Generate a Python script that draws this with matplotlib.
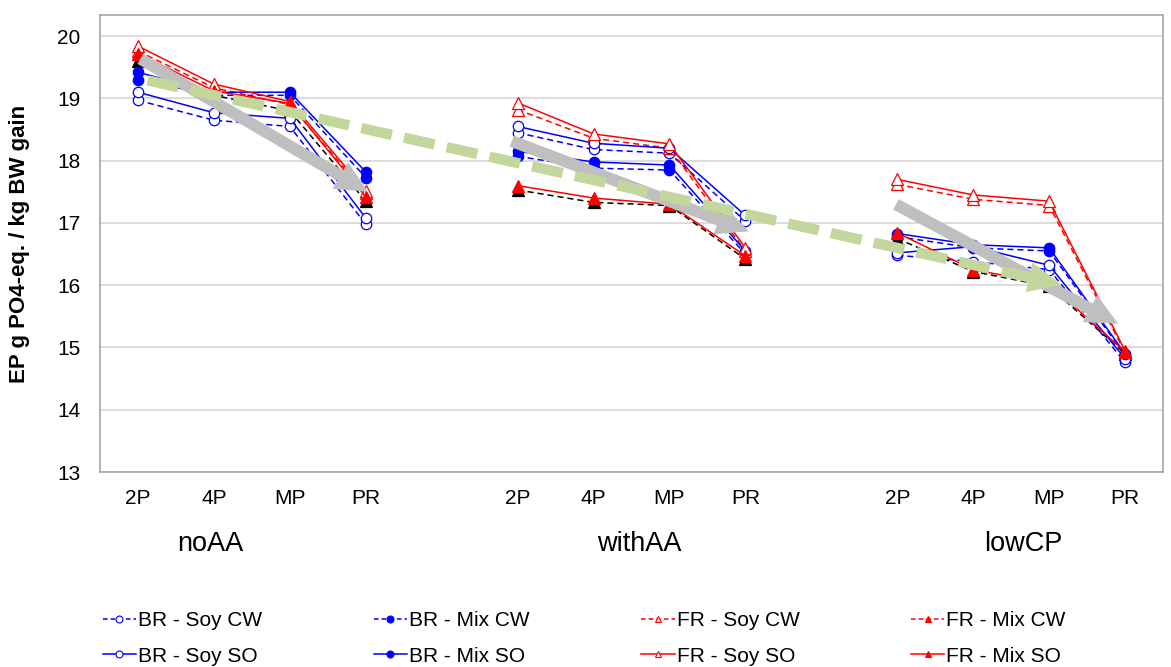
import numpy as np
import matplotlib
matplotlib.use("Agg")
import matplotlib.pyplot as plt
from matplotlib.lines import Line2D
from matplotlib.patches import FancyArrowPatch

plt.rcParams['font.family'] = ['Liberation Sans', 'DejaVu Sans']

#categories################
stades = ['2P', '4P', 'MP', 'PR']
groupes = ['noAA', 'withAA', 'lowCP']
###########################

# EP g PO4-eq. / kg BW gain : noAA (4), withAA (4), lowCP (4)
br_soy_cw = [18.97, 18.65, 18.55, 16.98, 18.45, 18.18, 18.12, 17.03, 16.48, 16.38, 16.25, 14.76]
br_mix_cw = [19.30, 19.05, 19.05, 17.73, 18.07, 17.88, 17.85, 16.50, 16.78, 16.60, 16.55, 14.88]
fr_soy_cw = [19.76, 19.17, 18.90, 17.48, 18.82, 18.36, 18.20, 16.55, 17.62, 17.38, 17.28, 14.92]
fr_mix_cw = [19.60, 19.05, 18.80, 17.35, 17.53, 17.33, 17.28, 16.42, 16.75, 16.22, 15.98, 14.90]
br_soy_so = [19.10, 18.77, 18.68, 17.08, 18.55, 18.28, 18.20, 17.12, 16.52, 16.62, 16.32, 14.82]
br_mix_so = [19.42, 19.10, 19.10, 17.82, 18.15, 17.98, 17.93, 16.55, 16.83, 16.65, 16.60, 14.90]
fr_soy_so = [19.84, 19.23, 18.95, 17.52, 18.93, 18.43, 18.27, 16.60, 17.70, 17.45, 17.35, 14.95]
fr_mix_so = [19.72, 19.12, 18.92, 17.42, 17.60, 17.40, 17.30, 16.47, 16.84, 16.25, 16.02, 14.93]

# fleches de tendance (x = indice de categorie, y = valeur)
fleches_grises = [((0.0, 19.66), (3.06, 17.48)),
                  ((4.89, 18.33), (8.08, 16.85)),
                  ((9.95, 17.32), (12.94, 15.36))]
fleche_verte = ((0.13, 19.29), (12.2, 16.0))


def avec_trous(valeurs):
    """
    insere un NaN entre chaque groupe pour couper la ligne
    """
    res = []
    for g in range(len(groupes)):
        res += list(valeurs[g*4:(g+1)*4])
        if g < len(groupes) - 1:
            res.append(np.nan)
    return np.array(res, dtype=float)


x = np.arange(len(groupes)*5 - 1, dtype=float)
x[4::5] = np.nan

# (label, valeurs, couleur trace, style, marqueur, face, couleur legende)
series = [
    ("BR - Soy CW", br_soy_cw, 'blue', '--', 'o', 'white', 'blue'),
    ("BR - Mix CW", br_mix_cw, 'blue', '--', 'o', 'blue', 'blue'),
    ("FR - Soy CW", fr_soy_cw, 'red', '--', '^', 'white', 'red'),
    ("FR - Mix CW", fr_mix_cw, 'black', '--', '^', None, 'red'),
    ("BR - Soy SO", br_soy_so, 'blue', '-', 'o', 'white', 'blue'),
    ("BR - Mix SO", br_mix_so, 'blue', '-', 'o', 'blue', 'blue'),
    ("FR - Soy SO", fr_soy_so, 'red', '-', '^', 'white', 'red'),
    ("FR - Mix SO", fr_mix_so, 'red', '-', '^', 'red', 'red'),
]

fig = plt.figure(figsize=(11.71, 6.67), dpi=100)
ax = fig.add_axes([100/1171, 1 - 472/667, 1063/1171, 457/667])

poignees = []
for label, vals, coul, style, mk, face, coul_leg in series:
    face_tr = coul if face is None else face
    face_lg = coul_leg if face is None else face
    ax.plot(x, avec_trous(vals), color=coul, linestyle=style, linewidth=1.1,
            dashes=(4, 2.6) if style == '--' else (None, None),
            marker=mk, markersize=7.5 if mk == 'o' else 8,
            markerfacecolor=face_tr, markeredgecolor=coul, markeredgewidth=0.9)
    poignees.append(Line2D([], [], color=coul_leg, linestyle=style, linewidth=1.1,
                           dashes=(3, 2) if style == '--' else (None, None),
                           marker=mk, markersize=5, markerfacecolor=face_lg,
                           markeredgecolor=coul_leg, markeredgewidth=0.8, label=label))

# fleches grises
for debut, fin in fleches_grises:
    ax.add_patch(FancyArrowPatch(debut, fin, arrowstyle='simple,head_length=23,head_width=22,tail_width=8.5',
                                 mutation_scale=1, color='#bfbfbf', lw=0, zorder=5))

# fleche verte pointillee
vert = '#c3d69b'
(x0, y0), (x1, y1) = fleche_verte
f = 0.035
ax.plot([x0, x1 - (x1 - x0)*f], [y0, y1 - (y1 - y0)*f], color=vert, linewidth=7.5,
        dashes=(3, 1.2), solid_capstyle='butt', dash_capstyle='butt', zorder=6)
ax.add_patch(FancyArrowPatch((x1 - (x1 - x0)*0.1, y1 - (y1 - y0)*0.1), (x1, y1),
                             arrowstyle='simple,head_length=24,head_width=22,tail_width=0.01',
                             mutation_scale=1, color=vert, lw=0, zorder=6))

ax.set_xlim(-0.5, 13.5)
ax.set_ylim(13, 20.34)
ax.set_yticks(np.arange(13, 21))
pos_x = [g*5 + i for g in range(len(groupes)) for i in range(len(stades))]
ax.set_xticks(pos_x)
ax.set_xticklabels(stades*len(groupes))
ax.tick_params(axis='both', length=0, labelsize=15)
ax.tick_params(axis='x', pad=12)
ax.tick_params(axis='y', pad=14)
ax.yaxis.grid(True, color='#d9d9d9', linewidth=1.3)
ax.set_axisbelow(True)
for s in ax.spines.values():
    s.set_color('#a6a6a6')
    s.set_linewidth(1.2)

ax.set_ylabel('EP g PO4-eq. / kg BW gain', fontsize=16, fontweight='bold')
ax.yaxis.set_label_coords(-0.066, 0.5)

for g, nom in zip([0.95, 6.6, 11.66], groupes):
    ax.text(g, -0.158, nom, transform=ax.get_xaxis_transform(), ha='center', va='center', fontsize=19.5)

ordre = [0, 4, 1, 5, 2, 6, 3, 7]
fig.legend([poignees[i] for i in ordre], [poignees[i].get_label() for i in ordre],
           loc='center', bbox_to_anchor=(0.499, 0.043), ncol=4, frameon=False, fontsize=15,
           handlelength=1.6, handletextpad=0.1, columnspacing=5.35, labelspacing=0.8)

fig.savefig('out.png', dpi=100)
